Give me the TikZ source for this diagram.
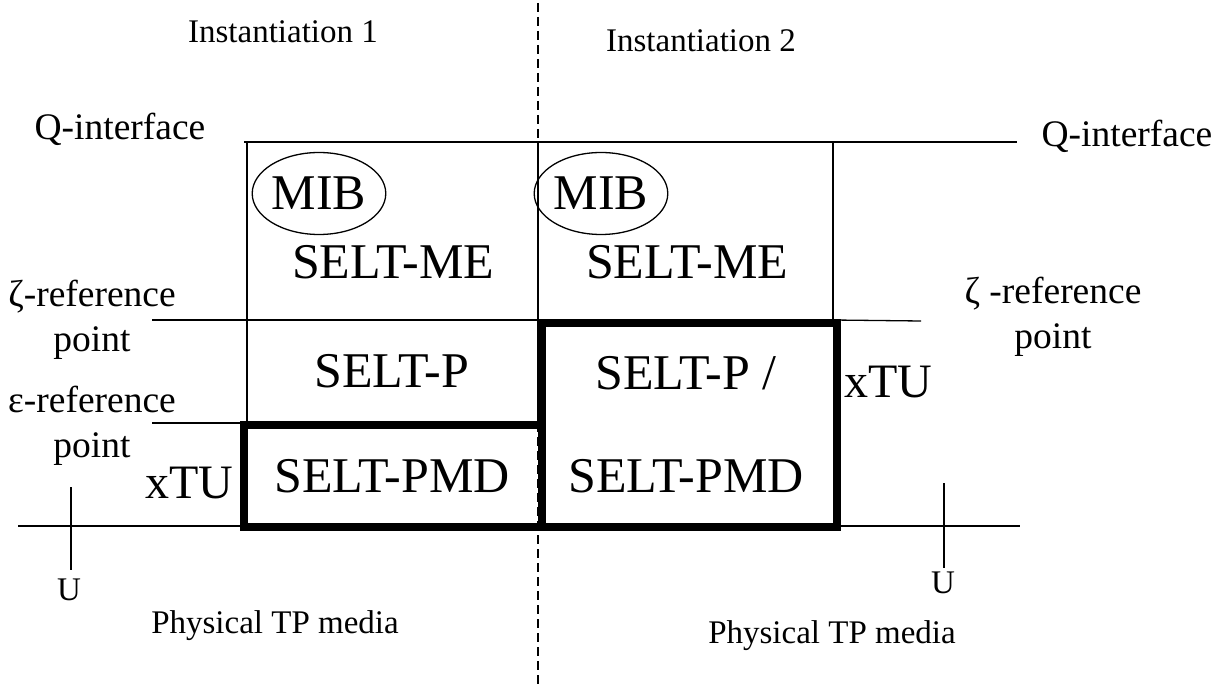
\documentclass[tikz,border=0pt]{standalone}
\usepackage{fontspec}
\setmainfont{Liberation Serif}
\usetikzlibrary{shapes, positioning}
\newcommand{\fsz}[1]{\fontsize{#1}{#1}\selectfont}

\begin{document}
\begin{tikzpicture}[x=1pt, y=-1pt,
  basic/.style = {inner sep=0pt, outer sep=0pt},
  layer/.style = {basic, draw, line width=1.3pt, anchor=north west},
  xtu/.style   = {basic, draw, line width=8.5pt, anchor=north west},
  mib/.style   = {basic, draw, ellipse, line width=1.3pt, minimum width=102pt, minimum height=82pt, font=\fsz{50}},
  big/.style   = {basic, font=\fsz{50}, anchor=base},
  ref/.style   = {basic, font=\fontsize{37.5}{45}\selectfont, anchor=base, align=center},
  small/.style = {basic, font=\fsz{33}, anchor=base},
  wire/.style  = {line width=1.3pt},
  split/.style = {line width=1.2pt, dash pattern=on 9pt off 5pt}]

\useasboundingbox (0,0) rectangle (1216,684);

% the layers of both instantiations
\node[layer, minimum width=291pt, minimum height=178pt] (me1) at (247,142) {};
\node[layer, minimum width=295pt, minimum height=178pt] (me2) at (538,142) {};
\node[layer, minimum width=291pt, minimum height=104pt] (p1) at (247,320) {};
\node[xtu, minimum width=298pt, minimum height=102pt] (pmd1) at (244,425) {};
\node[xtu, minimum width=295pt, minimum height=204pt] (pp2) at (542,323) {};

% texts inside the layers
\node[mib] (mib1) at (319,193.5) {MIB};
\node[mib] (mib2) at (601,193.5) {MIB};
\node[big] (me1t) at (393,279) {SELT-ME};
\node[big] (me2t) at (687,279) {SELT-ME};
\node[big] (p1t) at (392,388) {SELT-P};
\node[big] (pmd1t) at (392,493) {SELT-PMD};
\node[big, align=center, font=\fontsize{50}{104}\selectfont] (pp2t) at (686,493) {SELT-P /\\SELT-PMD};
\node[big, font=\fsz{48}] (xtu1) at (189,498) {xTU};
\node[big, font=\fsz{48}] (xtu2) at (888,398) {xTU};

% labels round the layers
\node[small] (inst1) at (283,43) {Instantiation 1};
\node[small] (inst2) at (701,52) {Instantiation 2};
\node[ref] (qL) at (120,140) {Q-interface};
\node[ref] (qR) at (1127,147) {Q-interface};
\node[ref] (zL) at (92,352) {ζ-reference\\point};
\node[ref] (zR) at (1053,349) {ζ -reference\\point};
\node[ref] (eL) at (92,458) {ε-reference\\point};
\node[small] (uL) at (69,600) {U};
\node[small] (uR) at (943,593) {U};
\node[small] (tpL) at (275,633) {Physical TP media};
\node[small] (tpR) at (832,643) {Physical TP media};

% reference lines
\coordinate (qa) at (244,142);
\coordinate (qb) at (1017,142);
\coordinate (zLa) at (152,320);
\coordinate (zRb) at (921,321);
\coordinate (eLa) at (152,423);
\coordinate (bLa) at (18,526);
\coordinate (bRb) at (1020,526);
\draw[wire] (qa) -- (qb);
\draw[wire] (zLa) -- (me1.south west);
\draw[wire] (me2.south east) -- (zRb);
\draw[wire] (eLa) -- (eLa -| pmd1.west);
\draw[wire] (bLa) -- (bLa -| pmd1.west);
\draw[wire] (bRb -| pp2.east) -- (bRb);

% U reference points
\foreach \s/\x/\ya/\yb in {L/71/487/570, R/944/483/568} {
  \coordinate (tick\s a) at (\x,\ya);
  \coordinate (tick\s b) at (\x,\yb);
  \draw[wire] (tick\s a) -- (tick\s b);
}

% split between the instantiations
\coordinate (dtop) at (538,3);
\coordinate (dbot) at (538,684);
\draw[split] (dtop) -- (dbot);

\end{tikzpicture}
\end{document}
